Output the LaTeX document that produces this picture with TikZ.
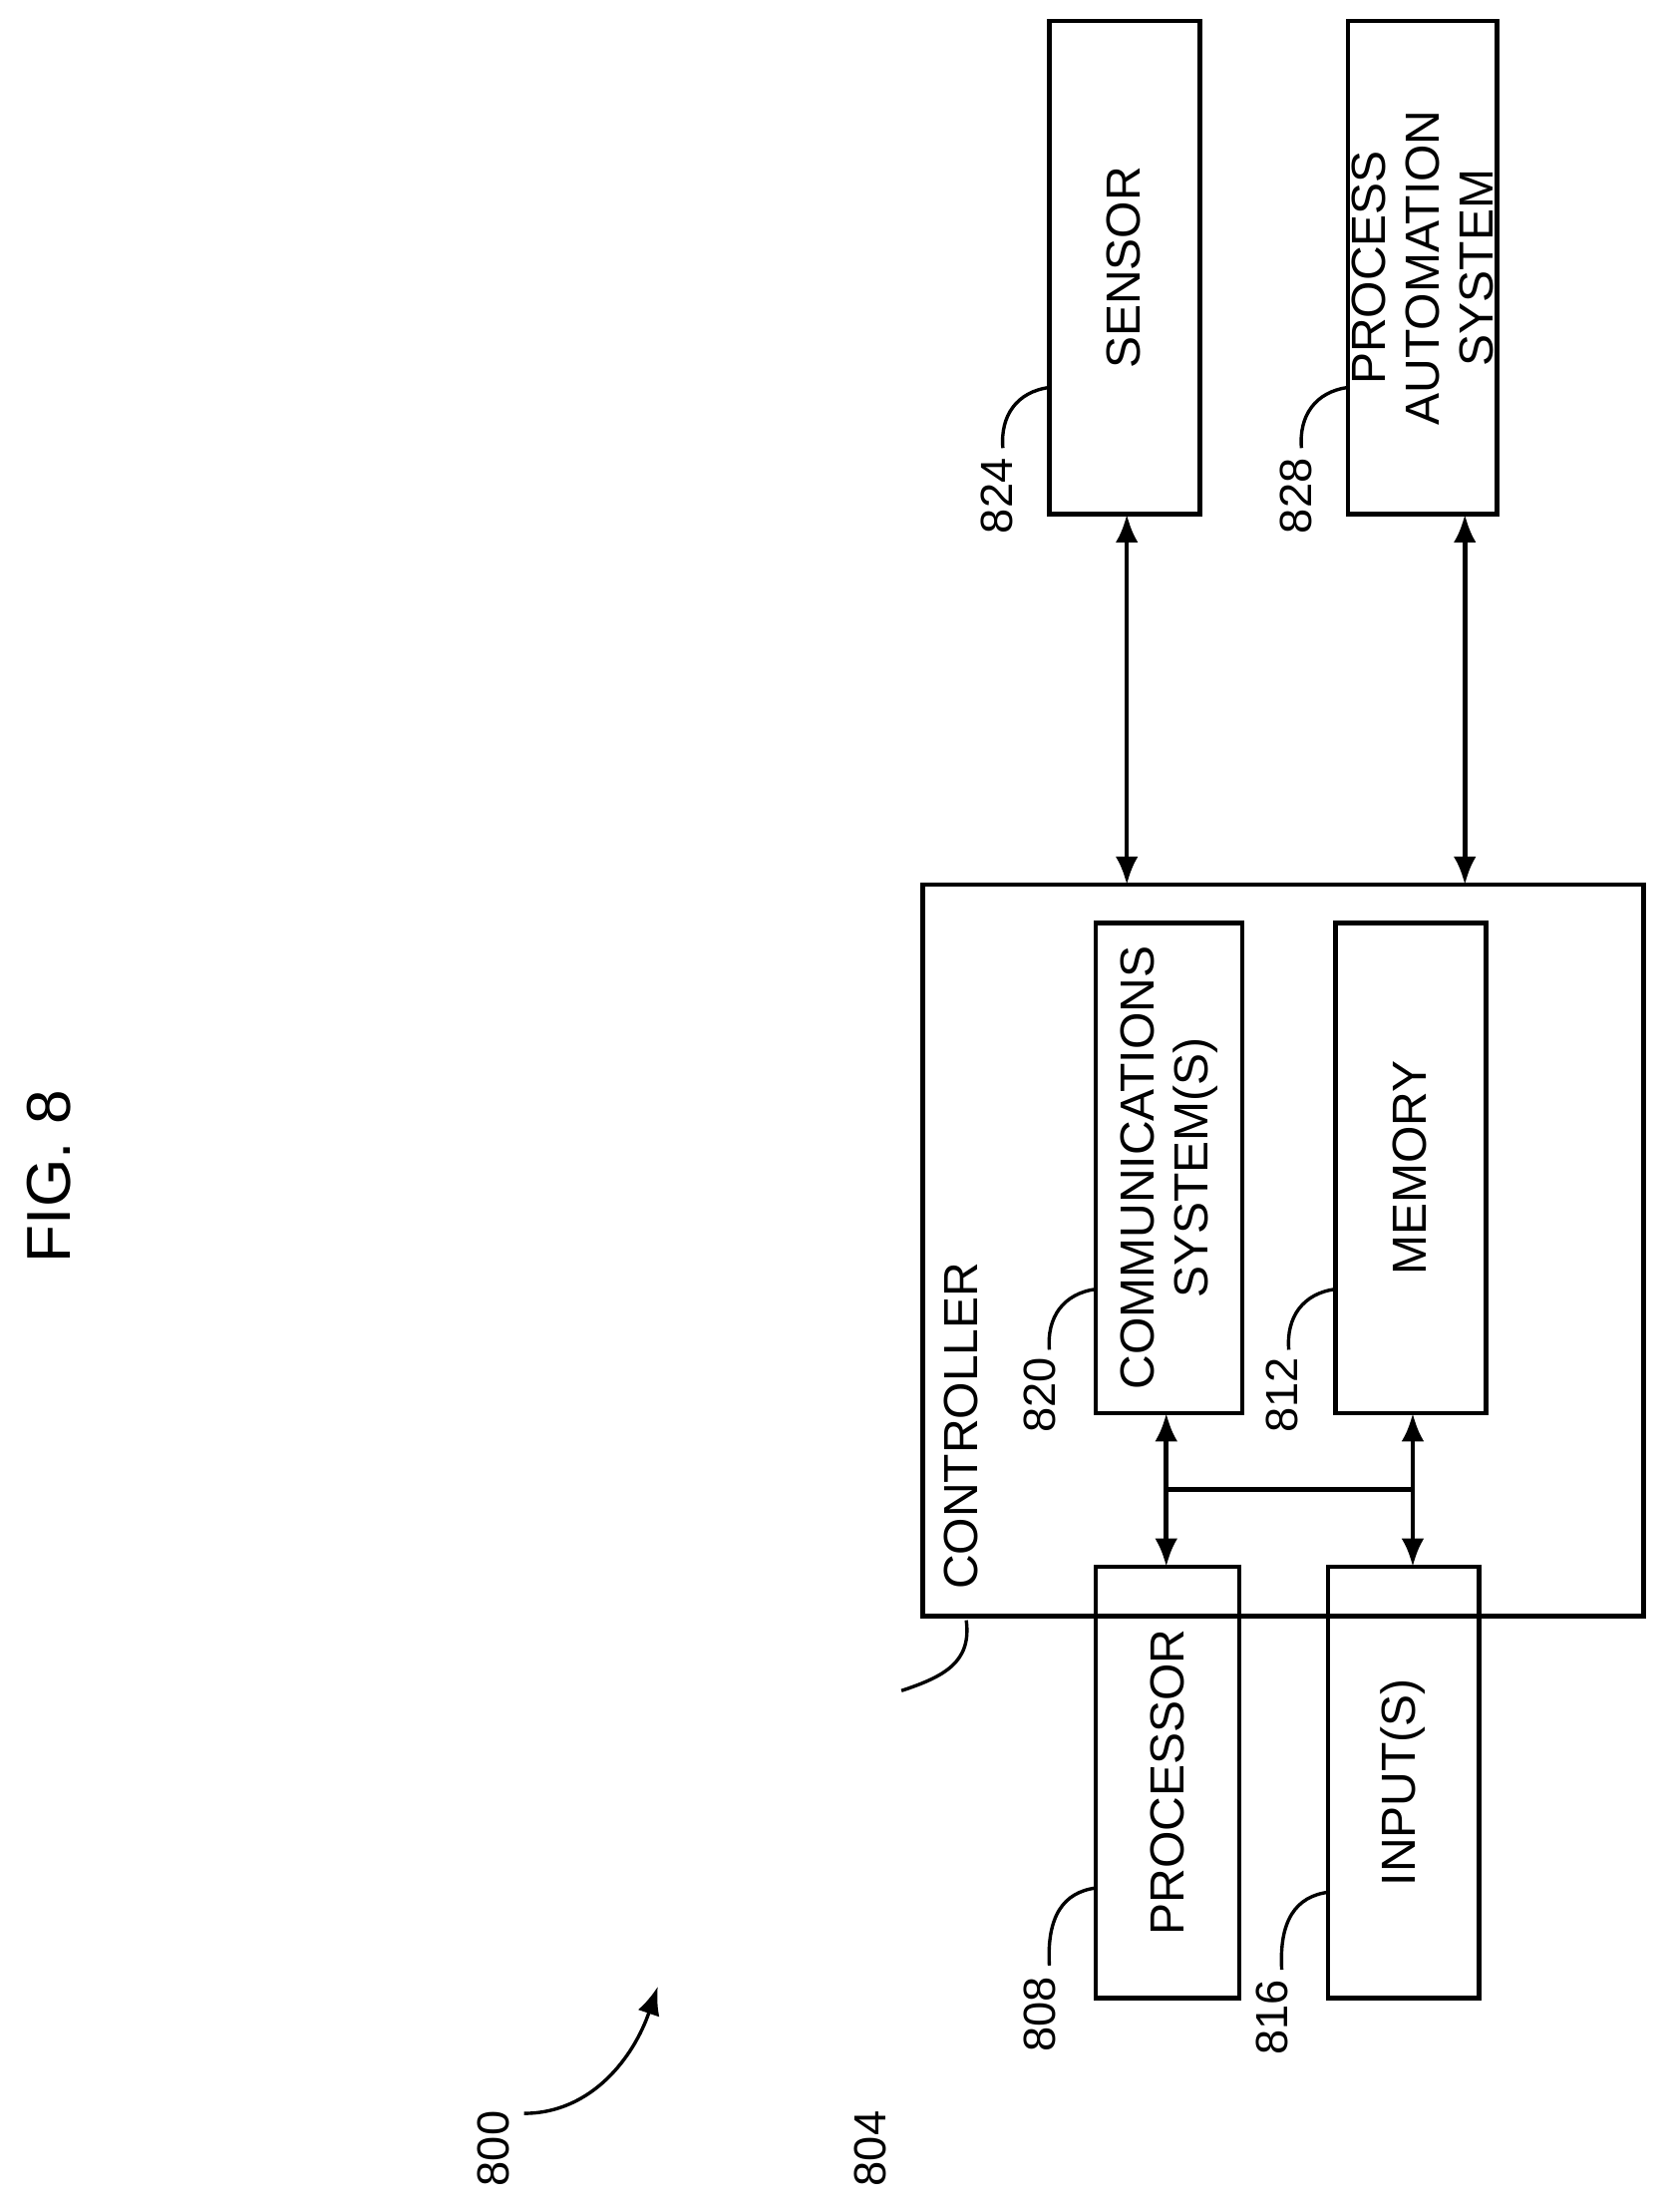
\documentclass[tikz,border=0pt]{standalone}
\usepackage{fontspec}
\setmainfont{Liberation Sans}
\usetikzlibrary{arrows.meta}
\tikzset{
  blk/.style={draw, line width=1.6pt, minimum width=#1, anchor=north west, inner sep=0pt},
  lbl/.style={rotate=90, font=\fontsize{17}{19}\selectfont, align=center},
  num/.style={rotate=90, font=\fontsize{16}{18}\selectfont},
  link/.style={{Latex[length=10pt,width=8pt]}-{Latex[length=10pt,width=8pt]}, line width=1.6pt},
}
\begin{document}
\begin{tikzpicture}[x=0.5pt, y=-0.5pt]
    \useasboundingbox (0,0) rectangle (1185,1570);
    % blocks
    \draw[line width=1.6pt] (655,628) rectangle (1167,1147);
    \draw[line width=1.6pt] (778,1112) rectangle (880,1418);
    \draw[line width=1.6pt] (943,1112) rectangle (1050,1418);
    \draw[line width=1.6pt] (778,655) rectangle (882,1003);
    \draw[line width=1.6pt] (948,655) rectangle (1055,1003);
    \draw[line width=1.6pt] (745,15) rectangle (852,365);
    \draw[line width=1.6pt] (957,15) rectangle (1063,365);
    \node[lbl] (proc) at (829,1265) {PROCESSOR};
    \node[lbl] (inp) at (996,1265) {INPUT(S)};
    \node[lbl] (comm) at (830,829) {COMMUNICATIONS\\SYSTEM(S)};
    \node[lbl] (mem) at (1001,829) {MEMORY};
    \node[lbl] (sens) at (798,190) {SENSOR};
    \node[lbl] (pas) at (1010,190) {PROCESS\\AUTOMATION\\SYSTEM};
    \node[lbl] (ctrl) at (682,1012) {CONTROLLER};
    \node[rotate=90, font=\fontsize{22}{24}\selectfont] (fig) at (35,835) {FIG. 8};
    % connectors
    \coordinate (sa) at (800,365); \coordinate (sb) at (800,628);
    \coordinate (pa) at (1040,365); \coordinate (pb) at (1040,628);
    \draw[link] (sa) -- (sb);
    \draw[link] (pa) -- (pb);
    \coordinate (ca) at (828,1003); \coordinate (cb) at (828,1112);
    \coordinate (ma) at (1003,1003); \coordinate (mb) at (1003,1112);
    \draw[link] (ca) -- (cb);
    \draw[link] (ma) -- (mb);
    \draw[line width=1.6pt] (828,1057) -- (1003,1057);
    % reference numerals
    \node[num] (n824) at (708,352) {824};
    \draw[line width=1.2pt] (745,275) .. controls (722,278) and (710,295) .. (712,318);
    \node[num] (n828) at (920,352) {828};
    \draw[line width=1.2pt] (957,275) .. controls (934,278) and (922,295) .. (924,318);
    \node[num] (n820) at (738,990) {820};
    \draw[line width=1.2pt] (778,915) .. controls (755,918) and (743,935) .. (745,958);
    \node[num] (n812) at (910,990) {812};
    \draw[line width=1.2pt] (948,915) .. controls (925,918) and (913,935) .. (915,958);
    \node[num] (n808) at (738,1430) {808};
    \draw[line width=1.2pt] (778,1340) .. controls (755,1343) and (743,1360) .. (745,1395);
    \node[num] (n816) at (903,1432) {816};
    \draw[line width=1.2pt] (943,1343) .. controls (920,1346) and (908,1363) .. (910,1398);
    \node[num] (n804) at (618,1525) {804};
    \draw[line width=1.2pt] (686,1150) .. controls (690,1180) and (670,1190) .. (640,1200);
    \node[num] (n800) at (350,1525) {800};
    \draw[line width=1.2pt, -{Latex[length=10pt,width=8pt]}] (372,1500) .. controls (420,1500) and (450,1460) .. (467,1410);
\end{tikzpicture}
\end{document}
